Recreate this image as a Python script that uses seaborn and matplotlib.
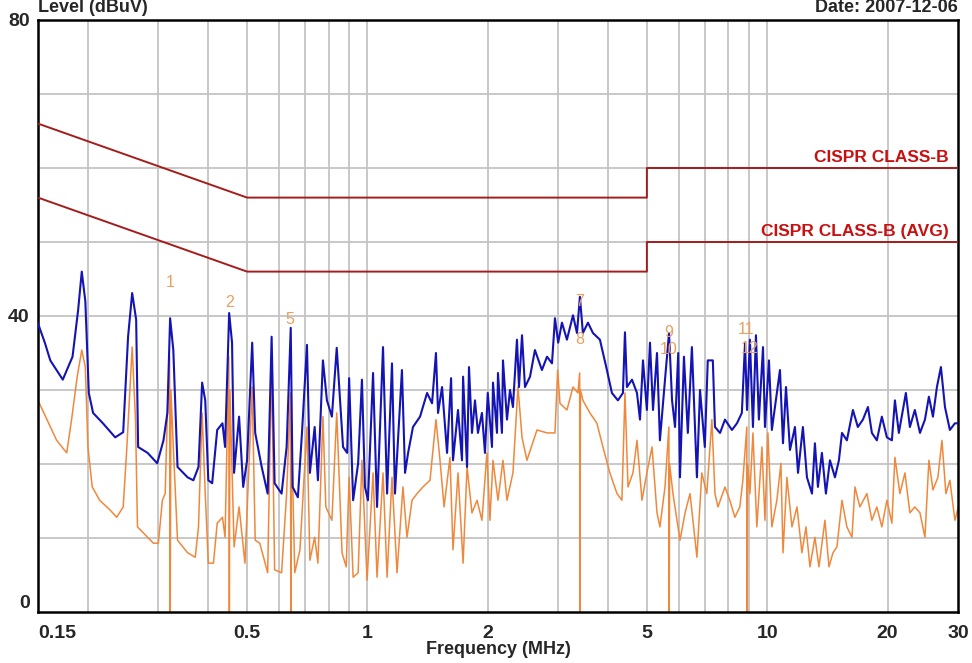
import matplotlib
matplotlib.use("Agg")
import matplotlib.pyplot as plt
import seaborn as sns
import numpy as np
from matplotlib.ticker import FixedLocator, NullFormatter, FixedFormatter

# ---------------- data ----------------
peak_freq = [0.150, 0.156, 0.161, 0.173, 0.183, 0.189, 0.193, 0.197, 0.201, 0.206,
             0.218, 0.234, 0.245, 0.252, 0.258, 0.264, 0.267, 0.282, 0.298, 0.309,
             0.316, 0.321, 0.327, 0.335, 0.355, 0.367, 0.378, 0.386, 0.393, 0.400,
             0.409, 0.421, 0.434, 0.4405, 0.451, 0.4586, 0.464, 0.4775, 0.489, 0.500,
             0.515, 0.524, 0.544, 0.563, 0.576, 0.586, 0.610, 0.628, 0.643, 0.650,
             0.670, 0.686, 0.706, 0.718, 0.738, 0.752, 0.774, 0.792, 0.815, 0.838,
             0.850, 0.869, 0.890, 0.900, 0.921, 0.948, 0.969, 0.986, 1.003, 1.033,
             1.057, 1.094, 1.120, 1.152, 1.172, 1.220, 1.242, 1.264, 1.300, 1.354,
             1.410, 1.451, 1.484, 1.502, 1.537, 1.582, 1.619, 1.637, 1.685, 1.724,
             1.735, 1.775, 1.795, 1.826, 1.858, 1.890, 1.934, 1.968, 2.000, 2.049,
             2.061, 2.109, 2.121, 2.170, 2.183, 2.234, 2.273, 2.312, 2.366, 2.394,
             2.436, 2.478, 2.551, 2.624, 2.732, 2.813, 2.895, 2.945, 3.000, 3.066,
             3.155, 3.267, 3.343, 3.400, 3.459, 3.561, 3.665, 3.815, 3.972, 4.088,
             4.232, 4.356, 4.407, 4.458, 4.589, 4.723, 4.805, 4.889, 5.000, 5.090,
             5.180, 5.300, 5.390, 5.550, 5.680, 5.780, 5.880, 5.990, 6.050, 6.190,
             6.330, 6.480, 6.670, 6.790, 6.980, 7.100, 7.190, 7.310, 7.400, 7.620,
             7.840, 8.160, 8.400, 8.640, 8.800, 8.900, 9.050, 9.210, 9.370, 9.530,
             9.760, 9.870, 10.10, 10.27, 10.51, 10.76, 10.95, 11.14, 11.40, 11.73,
             11.94, 12.28, 12.57, 12.94, 13.16, 13.39, 13.70, 14.02, 14.35, 14.77,
             15.11, 15.38, 15.82, 16.38, 16.85, 17.35, 17.86, 18.27, 18.80, 19.35,
             19.92, 20.50, 20.86, 21.34, 22.22, 22.74, 23.40, 24.10, 24.80, 25.37,
             25.97, 26.57, 27.19, 27.83, 28.63, 29.47, 30.00]
peak_level = [39.0, 36.4, 34.0, 31.4, 34.5, 40.8, 46.0, 42.0, 29.6, 26.9,
              25.5, 23.6, 24.3, 37.2, 43.1, 39.5, 22.3, 21.5, 20.1, 23.2,
              26.9, 39.7, 35.4, 19.6, 18.2, 17.8, 19.6, 31.0, 28.6, 17.8,
              17.4, 24.6, 25.5, 22.3, 40.4, 36.4, 18.8, 26.4, 16.9, 20.5,
              36.4, 24.2, 19.6, 16.0, 37.2, 17.4, 16.0, 22.3, 38.4, 16.9,
              15.5, 24.2, 36.1, 18.8, 25.0, 17.8, 34.0, 28.6, 26.4, 35.7,
              30.4, 22.3, 21.5, 31.6, 15.1, 20.1, 31.4, 16.9, 15.1, 32.3,
              14.2, 35.8, 16.0, 33.6, 16.0, 32.7, 18.8, 21.5, 25.0, 26.4,
              29.6, 28.2, 35.0, 26.9, 30.4, 21.5, 31.6, 20.5, 27.3, 20.5,
              31.8, 19.6, 33.1, 24.2, 28.6, 24.2, 26.9, 21.5, 29.6, 22.3,
              31.0, 24.2, 32.3, 24.2, 34.0, 26.0, 30.0, 27.7, 36.8, 30.4,
              37.4, 30.4, 31.8, 35.4, 32.7, 34.5, 33.6, 39.7, 36.4, 39.1,
              36.8, 40.1, 37.7, 42.6, 37.7, 39.1, 37.7, 36.8, 32.7, 29.6,
              28.6, 29.6, 37.8, 30.4, 31.4, 29.6, 26.0, 34.0, 27.3, 36.4,
              27.3, 35.0, 23.2, 31.4, 37.7, 28.6, 25.0, 35.0, 18.2, 34.5,
              24.2, 35.8, 18.2, 30.0, 22.3, 34.0, 34.0, 34.0, 25.0, 24.2,
              26.0, 24.6, 25.5, 26.9, 36.4, 27.3, 36.8, 25.0, 37.4, 26.0,
              35.8, 25.0, 34.0, 24.6, 28.6, 32.7, 22.8, 30.4, 21.9, 25.0,
              18.8, 25.0, 18.2, 16.0, 22.8, 16.9, 21.5, 16.0, 20.5, 18.2,
              20.5, 24.2, 23.2, 27.3, 25.0, 26.0, 27.7, 24.2, 23.2, 26.4,
              23.6, 23.2, 28.6, 24.2, 29.6, 25.0, 27.3, 24.2, 26.0, 29.1,
              26.4, 30.4, 33.1, 27.7, 24.6, 25.5, 25.5]

avg_freq = [0.150, 0.158, 0.167, 0.177, 0.182, 0.188, 0.193, 0.197, 0.200, 0.205,
            0.214, 0.227, 0.236, 0.245, 0.250, 0.258, 0.263, 0.266, 0.275, 0.2915,
            0.300, 0.307, 0.312, 0.316, 0.320, 0.3212, 0.3225, 0.327, 0.335, 0.355,
            0.371, 0.378, 0.386, 0.393, 0.400, 0.412, 0.421, 0.434, 0.4405, 0.450,
            0.4515, 0.453, 0.464, 0.4775, 0.494, 0.515, 0.524, 0.538, 0.563, 0.576,
            0.586, 0.610, 0.628, 0.642, 0.6435, 0.645, 0.658, 0.678, 0.706, 0.718,
            0.738, 0.752, 0.774, 0.787, 0.815, 0.838, 0.864, 0.885, 0.900, 0.921,
            0.948, 0.969, 0.998, 1.033, 1.057, 1.094, 1.120, 1.152, 1.186, 1.227,
            1.256, 1.293, 1.331, 1.377, 1.434, 1.484, 1.519, 1.555, 1.609, 1.637,
            1.685, 1.735, 1.775, 1.826, 1.880, 1.934, 1.990, 2.025, 2.061, 2.121,
            2.183, 2.234, 2.312, 2.380, 2.436, 2.506, 2.655, 2.813, 2.945, 2.991,
            3.031, 3.155, 3.267, 3.362, 3.395, 3.402, 3.41, 3.459, 3.602, 3.750,
            3.882, 4.040, 4.210, 4.330, 4.407, 4.485, 4.615, 4.723, 4.861, 5.000,
            5.150, 5.300, 5.390, 5.550, 5.675, 5.685, 5.70, 5.810, 6.050, 6.230,
            6.410, 6.670, 6.860, 7.060, 7.270, 7.400, 7.530, 7.840, 8.060, 8.300,
            8.540, 8.690, 8.890, 8.905, 8.93, 9.050, 9.210, 9.420, 9.700, 9.870,
            10.04, 10.27, 10.57, 10.82, 10.95, 11.20, 11.53, 11.87, 12.21, 12.50,
            12.79, 13.16, 13.47, 13.94, 14.27, 14.60, 14.94, 15.38, 15.82, 16.29,
            16.57, 17.05, 17.75, 18.27, 18.80, 19.35, 19.92, 20.50, 20.86, 21.47,
            22.10, 22.74, 23.40, 24.10, 24.80, 25.37, 25.97, 26.72, 27.35, 27.98,
            28.63, 29.47, 30.00]
avg_level = [28.6, 26.0, 23.2, 21.5, 26.0, 31.8, 35.4, 33.1, 22.3, 16.9,
             15.1, 13.8, 12.8, 14.2, 21.9, 35.8, 26.0, 11.5, 10.7, 9.3,
             9.3, 15.1, 16.0, 26.9, 34.5, 0.0, 30.0, 22.3, 9.7, 8.0,
             7.4, 11.5, 26.9, 16.0, 6.6, 6.6, 12.0, 12.8, 10.1, 34.5,
             0.0, 30.0, 8.8, 14.2, 6.6, 30.4, 9.7, 9.3, 5.3, 33.6,
             5.7, 5.3, 16.0, 29.6, 0.0, 26.0, 5.3, 8.4, 25.0, 7.0,
             10.1, 6.6, 26.4, 14.2, 12.4, 26.9, 8.0, 6.1, 18.2, 4.7,
             5.3, 20.5, 4.3, 18.8, 4.7, 18.8, 4.7, 18.2, 5.3, 16.9,
             10.1, 15.1, 16.0, 16.9, 17.8, 26.0, 20.5, 14.2, 20.9, 8.4,
             18.8, 6.6, 19.6, 13.4, 15.1, 12.4, 21.5, 12.4, 20.5, 15.1,
             20.5, 15.1, 18.8, 30.4, 23.6, 20.5, 24.6, 24.2, 24.2, 32.7,
             28.2, 27.3, 30.4, 29.6, 32.3, 0.0, 30.0, 28.6, 26.9, 25.5,
             22.3, 18.8, 16.0, 15.1, 29.6, 16.9, 18.8, 23.2, 15.1, 18.8,
             22.3, 13.4, 11.5, 16.9, 25.0, 0.0, 20.0, 16.0, 9.7, 13.4,
             16.0, 7.4, 18.8, 16.0, 26.0, 16.0, 14.2, 16.9, 15.1, 12.8,
             14.2, 17.8, 25.0, 0.0, 20.0, 16.0, 24.2, 11.5, 22.3, 12.4,
             24.2, 11.5, 15.1, 20.1, 8.0, 18.2, 11.5, 14.2, 8.0, 11.5,
             6.1, 10.1, 6.1, 12.4, 6.1, 8.0, 8.8, 15.1, 11.5, 10.1,
             16.9, 14.2, 16.0, 12.4, 14.2, 11.5, 15.1, 12.0, 20.9, 16.0,
             18.8, 13.4, 14.2, 13.4, 10.1, 20.5, 16.5, 18.2, 23.2, 16.0,
             17.8, 12.4, 14.0]

# limit lines (CISPR 22 class B)
qp_limit_freq = [0.15, 0.5, 5.0, 5.0, 30.0]
qp_limit_level = [66.0, 56.0, 56.0, 60.0, 60.0]
av_limit_freq = [0.15, 0.5, 5.0, 5.0, 30.0]
av_limit_level = [56.0, 46.0, 46.0, 50.0, 50.0]

# marker labels
marker_labels = ["1", "2", "5", "7", "8", "9", "10", "11", "12"]
marker_freq = [0.321, 0.451, 0.640, 3.40, 3.40, 5.68, 5.68, 8.85, 9.05]
marker_level = [43.5, 40.8, 38.5, 41.0, 35.8, 36.8, 34.4, 37.2, 34.6]

x_ticks = [0.15, 0.5, 1, 2, 5, 10, 20, 30]
x_tick_labels = ["0.15", "0.5", "1", "2", "5", "10", "20", "30"]
x_grid = [0.2, 0.3, 0.4, 0.5, 0.6, 0.7, 0.8, 0.9, 1, 2, 3, 4, 5, 6, 7, 8, 9, 10, 20]
y_ticks = [0, 40, 80]
y_grid = [10, 20, 30, 40, 50, 60, 70]

# ---------------- plotting ----------------
sns.set_theme(style="white")
plt.rcParams["font.family"] = ["Liberation Sans Narrow", "Liberation Sans", "DejaVu Sans"]

fig = plt.figure(figsize=(9.72, 6.63), dpi=100)
ax = fig.add_axes([38 / 972, 51 / 663, 920 / 972, 592 / 663])
ax.set_xscale("log")
ax.set_xlim(0.15, 30)
ax.set_ylim(0, 80)

for g in x_grid:
    ax.axvline(g, color="#c4c4c4", lw=1.3, zorder=0)
for g in y_grid:
    ax.axhline(g, color="#c4c4c4", lw=1.3, zorder=0)

sns.lineplot(x=avg_freq, y=avg_level, ax=ax, color="#f0883c", lw=1.1,
             sort=False, estimator=None, zorder=2)
sns.lineplot(x=peak_freq, y=peak_level, ax=ax, color="#1414b4", lw=1.5,
             sort=False, estimator=None, zorder=3)
sns.lineplot(x=qp_limit_freq, y=qp_limit_level, ax=ax, color="#a51c1c", lw=1.4,
             sort=False, estimator=None, zorder=4)
sns.lineplot(x=av_limit_freq, y=av_limit_level, ax=ax, color="#a51c1c", lw=1.4,
             sort=False, estimator=None, zorder=4)

ax.text(28.4, 61.4, "CISPR CLASS-B", color="#c81010", fontsize=12.5,
        fontweight="bold", ha="right", va="center")
ax.text(28.4, 51.4, "CISPR CLASS-B (AVG)", color="#c81010", fontsize=12.5,
        fontweight="bold", ha="right", va="center")

for lab, f, lv in zip(marker_labels, marker_freq, marker_level):
    ax.text(f, lv, lab, color="#e8a060", fontsize=11.5, ha="center", va="bottom",
            zorder=5)

ax.xaxis.set_major_locator(FixedLocator(x_ticks))
ax.xaxis.set_major_formatter(FixedFormatter(x_tick_labels))
ax.xaxis.set_minor_locator(FixedLocator([]))
ax.xaxis.set_minor_formatter(NullFormatter())
ax.set_yticks(y_ticks)
ax.tick_params(axis="x", length=0, labelsize=14, pad=9)
ax.tick_params(axis="y", length=0, labelsize=14, pad=6)
for t in ax.get_xticklabels() + ax.get_yticklabels():
    t.set_fontweight("bold")
xl = ax.get_xticklabels()
xl[0].set_horizontalalignment("left")
xl[-1].set_horizontalalignment("center")
yl = ax.get_yticklabels()
yl[0].set_verticalalignment("bottom")
ax.grid(False)
for s in ax.spines.values():
    s.set_color("black")
    s.set_linewidth(1.8)
    s.set_visible(True)

ax.set_xlabel("Frequency (MHz)", fontsize=13, fontweight="bold", labelpad=0)
ax.set_ylabel("")
fig.text(38 / 972, 1 - 8 / 663, "Level (dBuV)", fontsize=13, fontweight="bold",
         ha="left", va="center")
fig.text(958 / 972, 1 - 8 / 663, "Date: 2007-12-06", fontsize=13,
         fontweight="bold", ha="right", va="center")

fig.savefig("out.png", dpi=100)
